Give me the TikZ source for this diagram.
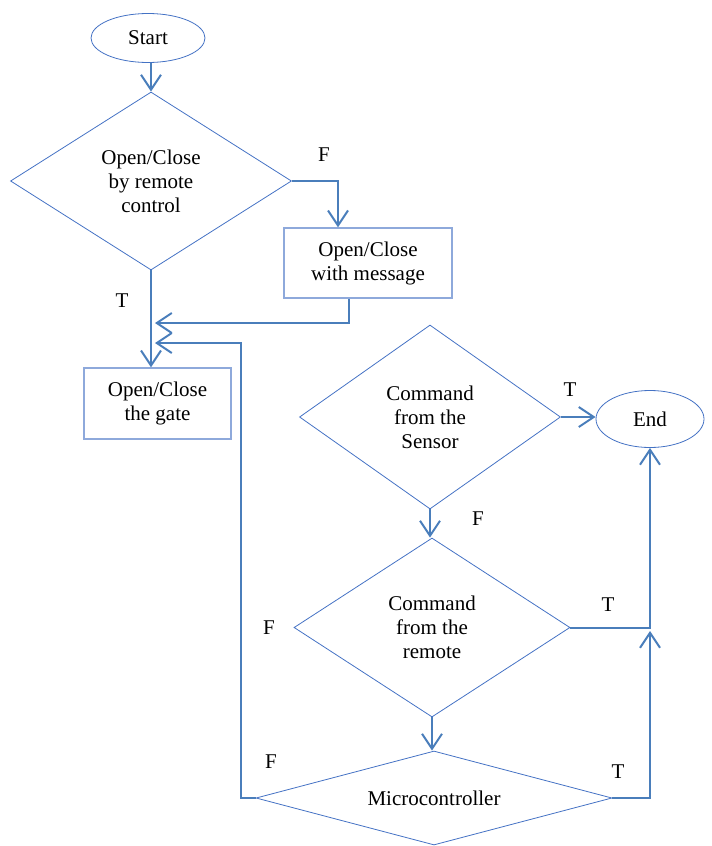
\documentclass[tikz,border=0pt]{standalone}
\usepackage{fontspec}
\setmainfont{Liberation Serif}
\usetikzlibrary{
  arrows.meta,
  shapes.geometric,
  positioning
}
\definecolor{fcLine}{HTML}{4472C4}
\definecolor{fcArrow}{HTML}{4A7EBB}
\definecolor{fcBox}{HTML}{8EA9DB}
\tikzset{
  fcnode/.style={
    draw=fcLine, line width=0.8pt, inner sep=0pt, align=center,
    font=\fontsize{21}{24}\selectfont
  },
  terminal/.style={fcnode, ellipse},
  decision/.style={fcnode, diamond},
  action/.style={fcnode, rectangle, draw=fcBox, line width=1.4pt},
  flow/.style={-{Straight Barb[length=15pt, width=20pt, line width=2pt]}, line width=2pt, fcArrow},
  wire/.style={line width=2pt, fcArrow},
  tf/.style={font=\fontsize{21}{24}\selectfont, inner sep=0pt}
}
\begin{document}
\begin{tikzpicture}[x=1pt, y=-1pt]
  \useasboundingbox (0,0) rectangle (712,846);
  % nodes
  \node[terminal, minimum width=114pt, minimum height=49pt] (start) at (148,38) {Start};
  \node[decision, minimum width=281pt, minimum height=178pt, aspect=1.58] (dec1) at (151,181)
    {Open/Close\\by remote\\control};
  \node[action, minimum width=168pt, minimum height=70pt] (msgbox) at (368,263)
    {Open/Close\\with message};
  \node[action, minimum width=147pt, minimum height=71pt] (gatebox) at (157.5,403.5)
    {Open/Close\\the gate};
  \node[decision, minimum width=261pt, minimum height=184pt, aspect=1.42] (dec2) at (430,417)
    {Command\\from the\\Sensor};
  \node[terminal, minimum width=108pt, minimum height=57pt] (endnode) at (650,419) {End};
  \node[decision, minimum width=276pt, minimum height=179pt, aspect=1.54] (dec3) at (432,627.5)
    {Command\\from the\\remote};
  \node[decision, minimum width=356pt, minimum height=94pt, aspect=3.8] (dec4) at (434,798)
    {Microcontroller};
  % join points
  \coordinate (jn1) at (155,323);
  \coordinate (jn2) at (155,343);
  \coordinate (loopL) at (241,343);
  \coordinate (rjoin) at (650,631);
  % connectors
  \draw[flow] (start.south -| dec1.north) -- (dec1.north);
  \draw[flow] (dec1.east) -| ([xshift=-30pt]msgbox.north);
  \draw[flow] (dec1.south) -- (dec1.south |- gatebox.north);
  \draw[flow] ([xshift=-19pt]msgbox.south) |- (jn1);
  \draw[flow] (dec4.west) -| (loopL) -- (jn2);
  \draw[flow] (dec2.east) -- (dec2.east -| endnode.west);
  \draw[flow] (dec2.south) -- (dec2.south |- dec3.north);
  \draw[flow] (dec3.south) -- (dec3.south |- dec4.north);
  \draw[flow] (dec3.east) -| (endnode.south);
  \draw[flow] (dec4.east) -| (rjoin);
  % T / F labels
  \node[tf] (lF1) at (324,155) {F};
  \node[tf] (lT1) at (122,301) {T};
  \node[tf] (lT2) at (570,390) {T};
  \node[tf] (lF2) at (478,519) {F};
  \node[tf] (lT3) at (608,605) {T};
  \node[tf] (lF3) at (269,628) {F};
  \node[tf] (lF4) at (271,762) {F};
  \node[tf] (lT4) at (618,772) {T};
\end{tikzpicture}
\end{document}
